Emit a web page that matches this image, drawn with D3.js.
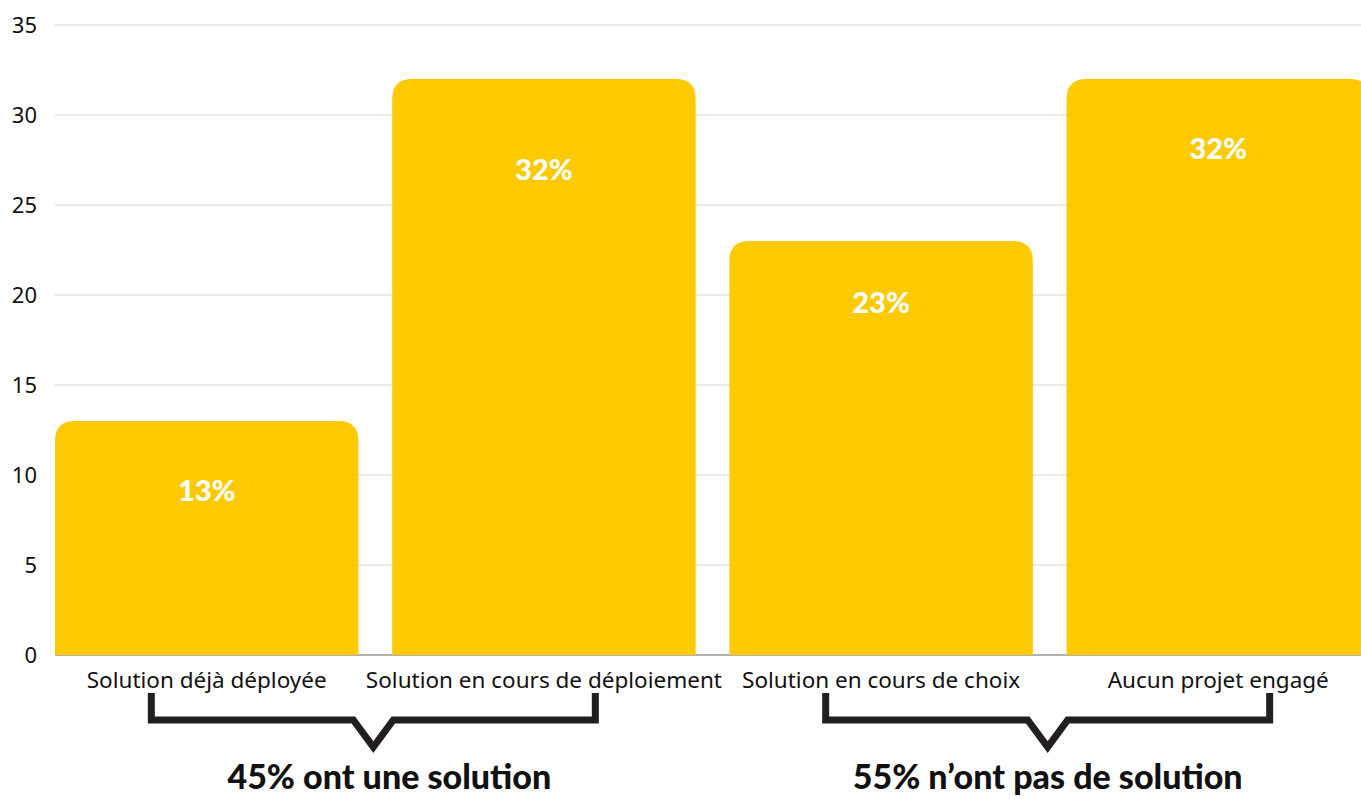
<!DOCTYPE html>
<html><head><meta charset="utf-8">
<script src="https://cdn.jsdelivr.net/npm/d3@7"></script>
<style>
html,body{margin:0;padding:0;background:#fff;overflow:hidden;}
svg{display:block;}
</style></head>
<body>
<svg id="chart" width="1361" height="799"></svg>
<script>
const categories = ["Solution déjà déployée","Solution en cours de déploiement","Solution en cours de choix","Aucun projet engagé"];
const values = [13, 32, 23, 32];
const valueLabels = ["13%","32%","23%","32%"];
const yTicks = [0,5,10,15,20,25,30,35];
const groupLabels = ["45% ont une solution","55% n’ont pas de solution"];
const groupMembers = [[0,1],[2,3]];

// layout (not data)
const labelOffsets = [70, 91, 62, 70];
const W = 1361, H = 799;
const left = 55, baseY = 655, topY = 25;
const barColor = "#FDCA02";
const font = "Lato, 'Noto Sans', sans-serif";
const font2 = "'Noto Sans', Lato, sans-serif";

const svg = d3.select("#chart");
const x = d3.scaleBand().domain(categories).range([left, 1370]).paddingInner(0.1).paddingOuter(0);
const y = d3.scaleLinear().domain([0,35]).range([baseY, topY]);

// gridlines
svg.append("g").selectAll("line").data(yTicks.filter(t=>t>0)).join("line")
  .attr("x1", left).attr("x2", W).attr("y1", d=>y(d)).attr("y2", d=>y(d))
  .attr("stroke", "#d6d6d6").attr("stroke-width", 1);

// y axis labels
const yAxis = d3.axisLeft(y).tickValues(yTicks).tickSize(0).tickPadding(0);
const ya = svg.append("g").attr("transform", `translate(37,0)`).call(yAxis);
ya.select(".domain").remove();
ya.selectAll("text").attr("font-family", font2).attr("font-size", 22).attr("fill", "#111").attr("dy","0.35em");

// baseline
svg.append("line").attr("x1", left).attr("x2", W).attr("y1", baseY).attr("y2", baseY)
  .attr("stroke", "#666").attr("stroke-width", 1.2);

// bars with rounded top corners
const r = 20;
function barPath(d, i){
  const x0 = x(categories[i]), w = x.bandwidth(), yt = y(d), yb = y(0);
  return `M${x0},${yb} L${x0},${yt+r} Q${x0},${yt} ${x0+r},${yt} L${x0+w-r},${yt} Q${x0+w},${yt} ${x0+w},${yt+r} L${x0+w},${yb} Z`;
}
svg.append("g").selectAll("path").data(values).join("path")
  .attr("d", (d,i)=>barPath(d,i)).attr("fill", barColor);

// value labels
svg.append("g").selectAll("text").data(values).join("text")
  .attr("x", (d,i)=>x(categories[i]) + x.bandwidth()/2)
  .attr("y", (d,i)=>y(d) + labelOffsets[i])
  .attr("dy", "0.35em")
  .attr("text-anchor", "middle")
  .attr("font-family", font).attr("font-weight", 900).attr("font-size", 29)
  .attr("fill", "#fff")
  .text((d,i)=>valueLabels[i]);

// category labels
svg.append("g").selectAll("text").data(categories).join("text")
  .attr("x", d=>x(d) + x.bandwidth()/2)
  .attr("y", 688)
  .attr("text-anchor", "middle")
  .attr("font-family", font2).attr("font-size", 22.5).attr("fill", "#111")
  .text(d=>d);

// brackets
const halfW = 222;
groupMembers.forEach((m, gi) => {
  const a = categories[m[0]], b = categories[m[1]];
  const cx = (x(a) + x.bandwidth() + x(b)) / 2 - 2;
  const xl = cx - halfW, xr = cx + halfW;
  const yTop = 693, yH = 720, notch = 20, yV = 747;
  svg.append("path")
    .attr("d", `M${xl},${yTop} L${xl},${yH} L${cx-notch},${yH} L${cx},${yV} L${cx+notch},${yH} L${xr},${yH} L${xr},${yTop}`)
    .attr("fill", "none").attr("stroke", "#231f20").attr("stroke-width", 7)
    .attr("stroke-linejoin", "miter");
  svg.append("text")
    .attr("x", cx + (gi===0 ? 16 : 0)).attr("y", 789)
    .attr("text-anchor", "middle")
    .attr("font-family", font).attr("font-weight", 900).attr("font-size", 34)
    .attr("fill", "#111")
    .text(groupLabels[gi]);
});
</script>
</body></html>
